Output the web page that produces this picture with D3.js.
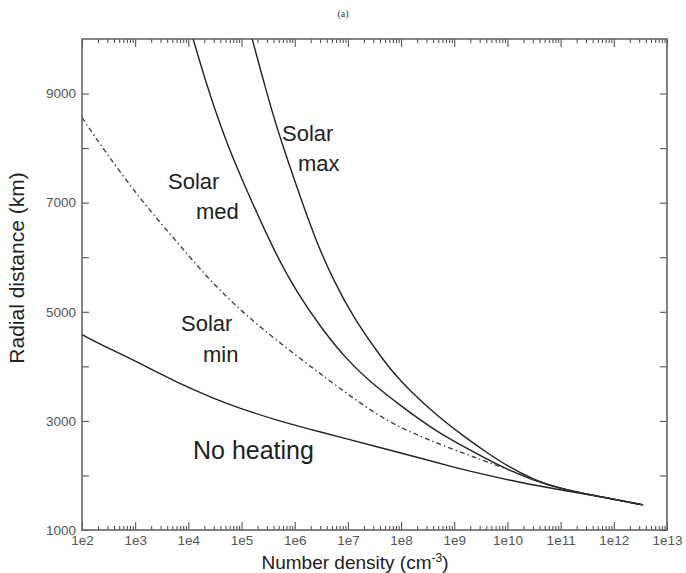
<!DOCTYPE html>
<html>
<head>
<meta charset="utf-8">
<script src="https://cdn.jsdelivr.net/npm/d3@7"></script>
<style>
  body { margin: 0; background: #fff; }
  svg { font-family: "Liberation Sans", Arial, sans-serif; }
  .tick text { fill: #555; }
</style>
</head>
<body>
<svg id="chart" width="686" height="573"></svg>
<script>
// curves: [log10(number density), radial distance km]
const noHeating = [[2, 4580], [2.5, 4330], [3, 4100], [3.75, 3720], [4.5, 3400], [5, 3220],
    [5.63, 3020], [6.5, 2790], [7.5, 2540], [8.35, 2320], [9, 2150], [9.5, 2030],
    [10.23, 1870], [11, 1735], [12, 1565], [12.55, 1460]];
const solarMin = [[2, 8560], [2.43, 7940], [3.13, 7020], [3.75, 6320], [4.37, 5610], [4.93, 5070],
    [5.5, 4600], [6.04, 4190], [6.5, 3850], [6.98, 3500], [7.73, 2990], [8.4, 2700], [8.97, 2480],
    [9.5, 2290], [9.98, 2120], [10.5, 1920], [11, 1750], [12, 1565], [12.55, 1460]];
const solarMed = [[4.09, 10000], [4.37, 9070], [4.74, 8030], [5.2, 7000], [5.63, 6080], [6.04, 5350],
    [6.5, 4700], [6.98, 4120], [7.41, 3720], [8, 3270], [8.6, 2850], [9, 2620], [9.61, 2300],
    [10, 2110], [10.5, 1910], [11, 1750], [12, 1565], [12.55, 1460]];
const solarMax = [[5.2, 10000], [5.45, 9100], [5.67, 8340], [6.1, 7110], [6.4, 6300], [6.72, 5590],
    [7.1, 4900], [7.6, 4200], [7.88, 3850], [8.17, 3550], [8.67, 3100], [9.2, 2700], [9.61, 2420],
    [10, 2170], [10.5, 1920], [11, 1750], [12, 1565], [12.55, 1460]];

const xDecades = [2, 3, 4, 5, 6, 7, 8, 9, 10, 11, 12, 13];
const yTicks = [1000, 2000, 3000, 4000, 5000, 6000, 7000, 8000, 9000];
const yLabelled = [1000, 3000, 5000, 7000, 9000];

const labels = [
    {lines: ["Solar", "max"], x: [282, 298], y: [141, 171], size: 22},
    {lines: ["Solar", "med"], x: [168, 196], y: [189, 219], size: 22},
    {lines: ["Solar", "min"], x: [181, 203], y: [331, 362], size: 22},
    {lines: ["No heating"], x: [193], y: [459], size: 25}
];

let svg = d3.select("#chart"),
    margin = {top: 39, right: 19, bottom: 43, left: 82},
    width = +svg.attr("width"),
    height = +svg.attr("height");

let x = d3.scaleLog()
    .domain([1e2, 1e13])
    .range([margin.left, width - margin.right]);

let y = d3.scaleLinear()
    .domain([1000, 10000])
    .range([height - margin.bottom, margin.top]);

let majors = xDecades.map(e => Math.pow(10, e));
let minors = [];
xDecades.slice(0, -1).forEach(e => {
    for (let k = 2; k <= 9; k++) minors.push(k * Math.pow(10, e));
});

let fmtDecade = d => "1e" + Math.round(Math.log10(d));

// bottom axis: majors with labels, minors without
svg.append("g")
    .attr("transform", "translate(0," + y.range()[0] + ")")
    .call(d3.axisBottom(x).tickValues(majors).tickFormat(fmtDecade).tickSize(-8).tickPadding(5))
    .call(g => g.select(".domain").remove())
    .selectAll("text").style("font-size", "13.5px");
svg.append("g")
    .attr("transform", "translate(0," + y.range()[0] + ")")
    .call(d3.axisBottom(x).tickValues(minors).tickFormat("").tickSize(-4))
    .call(g => g.select(".domain").remove());

// top axis
svg.append("g")
    .attr("transform", "translate(0," + y.range()[1] + ")")
    .call(d3.axisTop(x).tickValues(majors).tickFormat("").tickSize(-8))
    .call(g => g.select(".domain").remove());
svg.append("g")
    .attr("transform", "translate(0," + y.range()[1] + ")")
    .call(d3.axisTop(x).tickValues(minors).tickFormat("").tickSize(-4))
    .call(g => g.select(".domain").remove());

// left and right axes
svg.append("g")
    .attr("transform", "translate(" + x.range()[0] + ",0)")
    .call(d3.axisLeft(y).tickValues(yTicks)
        .tickFormat(d => yLabelled.includes(d) ? d : "")
        .tickSize(-7).tickPadding(6))
    .call(g => g.select(".domain").remove())
    .selectAll("text").style("font-size", "13.5px");
svg.append("g")
    .attr("transform", "translate(" + x.range()[1] + ",0)")
    .call(d3.axisRight(y).tickValues(yTicks).tickFormat("").tickSize(-7))
    .call(g => g.select(".domain").remove());

svg.selectAll(".tick line").attr("stroke", "#444");

// frame
svg.append("rect")
    .attr("x", x.range()[0])
    .attr("y", y.range()[1])
    .attr("width", x.range()[1] - x.range()[0])
    .attr("height", y.range()[0] - y.range()[1])
    .attr("fill", "none")
    .attr("stroke", "#666")
    .attr("stroke-width", 1.6);

svg.append("clipPath").attr("id", "plot")
    .append("rect")
    .attr("x", x.range()[0]).attr("y", y.range()[1])
    .attr("width", x.range()[1] - x.range()[0])
    .attr("height", y.range()[0] - y.range()[1]);

let line = d3.line()
    .x(d => x(Math.pow(10, d[0])))
    .y(d => y(d[1]))
    .curve(d3.curveBasis);

let curves = [
    {data: noHeating, dash: null},
    {data: solarMed, dash: null},
    {data: solarMax, dash: null},
    {data: solarMin, dash: "5,3,1.5,3"}
];

svg.append("g")
    .attr("clip-path", "url(#plot)")
    .selectAll("path")
    .data(curves)
    .enter()
    .append("path")
    .attr("d", d => line(d.data))
    .attr("fill", "none")
    .attr("stroke", d => d.dash ? "#444" : "#222")
    .attr("stroke-width", 1.4)
    .attr("stroke-dasharray", d => d.dash);

// curve labels
labels.forEach(l => {
    l.lines.forEach((t, i) => {
        svg.append("text")
            .attr("x", l.x[i])
            .attr("y", l.y[i])
            .style("font-size", l.size + "px")
            .attr("fill", "#222")
            .text(t);
    });
});

// titles
svg.append("text")
    .attr("x", 343)
    .attr("y", 17)
    .attr("text-anchor", "middle")
    .style("font-family", "'Liberation Serif', 'DejaVu Serif', serif")
    .style("font-size", "10px")
    .attr("fill", "#333")
    .text("(a)");

let xt = svg.append("text")
    .attr("x", 355)
    .attr("y", 569)
    .attr("text-anchor", "middle")
    .style("font-size", "19px")
    .attr("fill", "#222");
xt.append("tspan").text("Number density (cm");
xt.append("tspan").attr("dy", -7).style("font-size", "12px").text("-3");
xt.append("tspan").attr("dy", 7).text(")");

svg.append("text")
    .attr("transform", "translate(24," + 268 + ") rotate(-90)")
    .attr("text-anchor", "middle")
    .style("font-size", "21px")
    .attr("fill", "#222")
    .text("Radial distance (km)");
</script>
</body>
</html>
